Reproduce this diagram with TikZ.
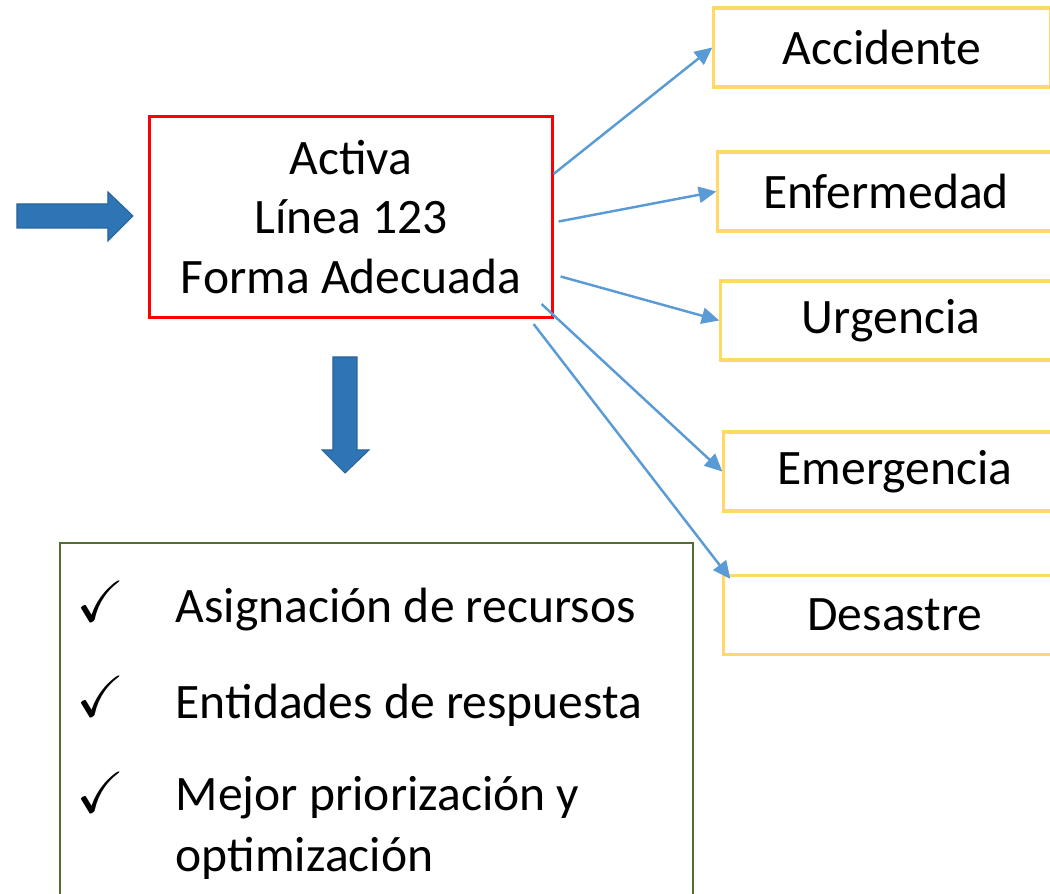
\documentclass[tikz,border=0pt]{standalone}
\usepackage{fontspec}
\setmainfont{Carlito}
\usepackage{amssymb}
\usetikzlibrary{arrows.meta, positioning, calc}
\definecolor{boxred}{RGB}{255,0,0}
\definecolor{boxyellow}{RGB}{255,217,102}
\definecolor{boxgreen}{RGB}{84,110,50}
\definecolor{linkblue}{RGB}{91,155,213}
\definecolor{bigblue}{RGB}{46,117,182}

\begin{document}
\begin{tikzpicture}[x=0.01cm, y=-0.01cm,
    every node/.style={font=\fontsize{14.1}{17}\selectfont},
    kind/.style={draw=boxyellow, line width=0.9pt, minimum height=0.79cm, inner sep=0pt},
    link/.style={draw=linkblue, line width=0.7pt, -{Triangle[length=5pt, width=4.6pt]}},
    tick/.style={font=\fontsize{16.5}{17}\selectfont},
    blockarrow/.style={fill=bigblue, draw=bigblue!85!black, line width=0.3pt}]
      \useasboundingbox (0,0) rectangle (1050,894);
      % Input arrow
      \draw[blockarrow] (17,204) -- (108,204) -- (108,192) -- (133,216)
        -- (108,241) -- (108,228) -- (17,228) -- cycle;
      % Active line box
      \node[draw=boxred, line width=0.85pt, minimum width=4.02cm, minimum height=2.01cm,
        align=center, inner sep=0pt] (act) at (351,217) {Activa\\Línea 123\\Forma Adecuada};
      % Down arrow
      \draw[blockarrow] (333,357) -- (357,357) -- (357,450) -- (369,450)
        -- (345,473) -- (322,450) -- (333,450) -- cycle;
      % Kinds of call
      \node[kind, minimum width=3.36cm] (acc) at (882,47.5) {Accidente};
      \node[kind, minimum width=3.36cm] (enf) at (886,191.5) {Enfermedad};
      \node[kind, minimum width=3.40cm] (urg) at (891,320.5) {Urgencia};
      \node[kind, minimum width=3.42cm] (eme) at (895,471.5) {Emergencia};
      \node[kind, minimum width=3.42cm] (des) at (895,615) {Desastre};
      % Links
      \coordinate (s1) at ($(act.north east)+(0,59)$);
      \coordinate (s2) at ($(act.east)+(5,4.5)$);
      \coordinate (s3) at ($(act.east)+(7,59.5)$);
      \coordinate (s4) at ($(act.south east)+(-12,-15)$);
      \coordinate (s5) at ($(act.south east)+(-20,5)$);
      \draw[link] (s1) -- (acc.west);
      \draw[link] (s2) -- (enf.west);
      \draw[link] (s3) -- (urg.west);
      \draw[link] (s4) -- (eme.west);
      \draw[link] (s5) -- ([shift={(8,5)}]des.north west);
      % Gains box
      \node[draw=boxgreen, line width=0.6pt, minimum width=6.33cm, minimum height=3.7cm,
        anchor=north west, inner sep=0pt] (gains) at (59,542) {};
      \node[tick] (c1) at (101,601) {$\checkmark$};
      \node[tick] (c2) at (101,696) {$\checkmark$};
      \node[tick] (c3) at (101,792) {$\checkmark$};
      \node[anchor=west, inner sep=0pt] (g1) at (175,610) {Asignación de recursos};
      \node[anchor=west, inner sep=0pt] (g2) at (175,705) {Entidades de respuesta};
      \node[anchor=west, inner sep=0pt] (g3) at (175,798) {Mejor priorización y};
      \node[anchor=west, inner sep=0pt] (g4) at (175,858) {optimización};
    \end{tikzpicture}
\end{document}
